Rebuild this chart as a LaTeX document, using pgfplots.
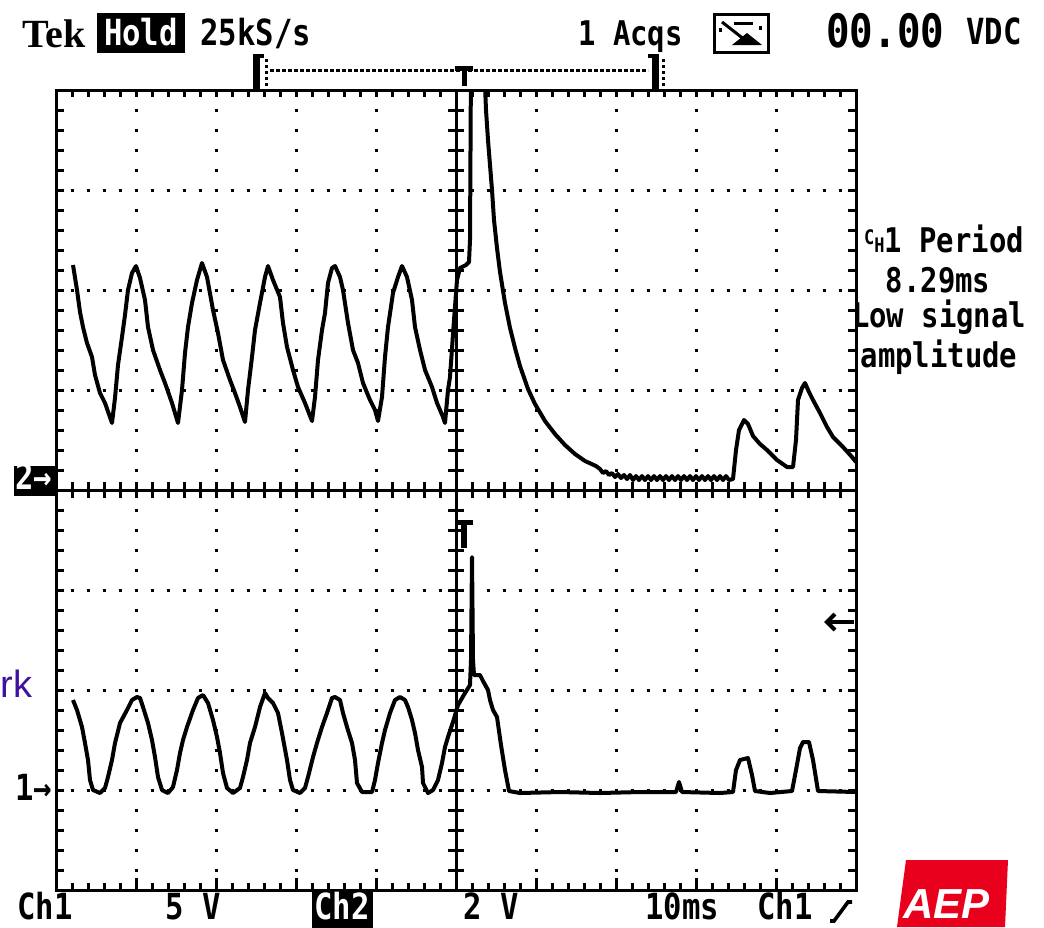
\documentclass[border=0pt]{standalone}
\usepackage{fontspec}
\usepackage{pgfplots}
\pgfplotsset{compat=1.18}
\newfontfamily\scopefont[FakeStretch=0.85]{DejaVu Sans Mono}
\newfontfamily\tekfont{Liberation Serif}
\newfontfamily\arialfont{Liberation Sans}
\definecolor{aepred}{RGB}{232,0,28}
\definecolor{slidepurple}{RGB}{64,16,160}
\tikzset{sc/.style={inner sep=0pt, font=\scopefont\bfseries\fontsize{#1}{#1}\selectfont}}
\begin{document}
\begin{tikzpicture}
\begin{axis}[
  scale only axis, width=400pt, height=400pt,
  xmin=56, xmax=856, ymin=90, ymax=890, y dir=reverse,
  axis line style={draw=none}, ticks=none,
  at={(28pt,-45pt)}, anchor=north west,
  clip=true,
]
% Channel 2 (upper trace)
\addplot[black, line width=2pt, line join=round] coordinates {
(73,265)(77,290)(80,312)(83,327)(87,343)(92,357)(95,375)(100,393)(105,403)(112,423)
(115,398)(118,365)(122,337)(125,315)(128,290)(132,273)(136,266)
(140,278)(145,300)(148,327)(153,350)(160,370)(165,383)(172,403)(178,423)
(182,390)(185,353)(188,327)(192,303)(197,280)(202,263)
(207,277)(213,310)(218,333)(223,360)(230,380)(235,393)(240,407)(245,422)
(248,390)(252,357)(255,330)(260,303)(265,277)(268,266)
(273,280)(280,297)(283,323)(287,347)(293,370)(298,387)(305,403)(312,421)
(315,397)(318,360)(322,330)(325,313)(328,283)(332,268)(335,266)
(340,277)(343,290)(348,323)(353,350)(358,363)(363,383)(370,400)(375,410)(378,421)
(382,397)(385,357)(388,327)(393,293)(398,277)(402,266)
(407,277)(412,300)(415,327)(420,350)(425,370)(432,387)(437,403)(443,417)(445,423)
(448,390)(450,377)(454,320)(457,280)(460,268)(466,265)(469,262)(470,240)(471,60)
(484,60)(486,110)(488,140)(490,165)(492,190)(494,220)(497,248)(500,272)(505,303)
(510,328)(515,348)(520,366)(528,389)(535,404)(545,421)(555,434)(565,445)(575,454)
(585,461)(596,466)
(600,469)(603,473)(606,471)(609,475)(612,473)(615,477)(618,474)(621,478)(624,475)
(627,479)(630,475)(633,480)(636,476)(639,480)(642,476)(645,480)(648,476)(651,480)
(654,476)(657,480)(660,476)(663,480)(666,476)(669,480)(672,476)(675,480)(678,476)
(681,480)(684,476)(687,480)(690,476)(693,480)(696,476)(699,480)(702,476)(705,480)
(708,476)(711,480)(714,476)(717,480)(720,476)(723,480)(726,476)(729,480)(733,479)
(736,450)(739,430)(744,420)(748,424)(753,436)(760,444)(767,450)(777,460)(787,467)(793,467)
(796,440)(798,400)(802,388)(805,383)(809,392)(813,400)(820,413)(827,427)(833,437)
(843,447)(852,457)(856,462)
};
% Channel 1 (lower trace)
\addplot[black, line width=2pt, line join=round] coordinates {
(73,700)(77,710)(82,727)(85,743)(88,760)(90,780)(93,790)(100,793)(105,788)(108,777)
(112,760)(115,743)(120,723)(127,710)(132,700)(137,697)(140,698)(143,707)(148,723)
(152,740)(155,757)(158,777)(162,790)(168,793)(173,787)(177,770)(180,753)(183,740)
(187,727)(193,710)(198,698)(203,695)(208,703)(213,720)(217,737)(220,753)(223,773)
(227,788)(233,793)(240,788)(243,777)(247,760)(250,743)(255,727)(260,707)(265,693)
(268,698)(273,703)(278,713)(282,733)(287,760)(290,780)(293,790)(300,793)(305,788)
(308,777)(313,757)(317,743)(322,727)(327,713)(332,698)(335,697)(340,700)(343,713)
(347,727)(352,743)(355,760)(357,783)(362,792)(372,792)(375,780)(378,763)(382,743)
(385,730)(390,713)(395,700)(400,697)(405,700)(408,707)(412,720)(415,733)(418,750)
(422,767)(423,783)(428,793)(433,790)(438,780)(442,763)(445,747)(448,737)(453,722)
(458,705)(465,693)(470,685)(471,660)(472,557)(473,660)(474,675)(480,675)(483,681)
(488,690)(490,700)(493,710)(497,717)(501,745)(505,770)(509,791)(520,793)(560,792)
(600,793)(640,792)(676,792)(679,782)(682,792)(720,793)(733,792)(736,770)(740,760)
(748,758)(752,775)(755,791)(770,793)(792,791)(796,770)(800,748)(803,742)(809,742)
(813,760)(818,791)(856,792)
};
\end{axis}
\begin{scope}[x=0.5pt,y=-0.5pt]
% ---------- graticule ----------
\draw[line width=1.5pt] (56,90) rectangle (856,890);
\foreach \y in {190,290,390,590,690,790}
  \draw[line width=1.5pt, dash pattern=on 1.5pt off 6.5pt, dash phase=0.75pt] (56,\y)--(856,\y);
\foreach \x in {136,216,296,376,536,616,696,776}
  \draw[line width=1.5pt, dash pattern=on 1.5pt off 8.5pt, dash phase=0.75pt] (\x,90)--(\x,890);
\draw[line width=1.5pt] (56,490)--(856,490);
\draw[line width=1.5pt] (456,90)--(456,890);
\foreach \k in {1,...,49} {
  \draw[line width=1.5pt] ({56+16*\k},482)--({56+16*\k},498);
  \draw[line width=1.5pt] ({56+16*\k},90)--({56+16*\k},97);
  \draw[line width=1.5pt] ({56+16*\k},890)--({56+16*\k},883);
}
\foreach \k in {5,10,...,45} \draw[line width=1.5pt] ({56+16*\k},890)--({56+16*\k},878);
\foreach \k in {1,...,39} {
  \draw[line width=1.5pt] (448,{90+20*\k})--(464,{90+20*\k});
  \draw[line width=1.5pt] (56,{90+20*\k})--(64,{90+20*\k});
  \draw[line width=1.5pt] (856,{90+20*\k})--(848,{90+20*\k});
}
% ---------- trigger position bar ----------
\fill (253,54) rectangle (260,90);
\fill (253,54) rectangle (264,58);
\draw[line width=1.5pt, dash pattern=on 1.5pt off 1.5pt] (266,59)--(266,90);
\draw[line width=1.5pt, dash pattern=on 2pt off 1pt] (270,70.5)--(648,70.5);
\fill (455,66) rectangle (473,71);
\fill (462,66) rectangle (467,86);
\fill (652,54) rectangle (659,90);
\fill (648,54) rectangle (659,58);
\draw[line width=1.5pt, dash pattern=on 1.5pt off 1.5pt] (663,59)--(663,90);
% ---------- top status line ----------
\node[anchor=base west, inner sep=0pt, font=\tekfont\bfseries\fontsize{20}{20}\selectfont] at (22,47) {Tek};
\fill (97,13) rectangle (185,53);
\node[sc=18, anchor=base, text=white] at (141,45) {Hold};
\node[sc=18, anchor=base west] at (200,45) {25kS/s};
\node[sc=17, anchor=base west] at (578,45) {1 Acqs};
\draw[line width=1.5pt] (714,14) rectangle (768,52);
\draw[line width=1.5pt] (722,22)--(745,40);
\draw[line width=1.5pt] (734,23)--(753,23);
\fill (719,28) rectangle (722,32);
\fill (759,26) rectangle (762,30);
\fill (732,45)--(747,33)--(762,45)--cycle;
\node[sc=23, anchor=base west] at (826,47) {00.00};
\node[sc=18, anchor=base west] at (966,44) {VDC};
% ---------- measurement readout ----------
\node[sc=17, anchor=base] at (944,252) {{\fontsize{10}{10}\selectfont\raisebox{4pt}{C}H}1 Period};
\node[sc=17, anchor=base] at (938,292) {8.29ms};
\node[sc=17, anchor=base] at (939,327) {Low signal};
\node[sc=17, anchor=base] at (939,367) {amplitude};
% ---------- channel markers ----------
\fill (14,466) rectangle (55,496);
\node[sc=18, anchor=base, text=white] at (34,489) {2→};
\node[sc=18, anchor=base] at (34,800) {1→};
\draw[line width=2pt] (828,622)--(854,622);
\draw[line width=2pt] (835,614)--(827,622)--(835,630);
\fill (457,520) rectangle (473,525);
\fill (461,520) rectangle (467,548);
\node[anchor=base east, inner sep=0pt, text=slidepurple, font=\arialfont\fontsize{19}{19}\selectfont] at (33,697) {rk};
% ---------- bottom status line ----------
\node[sc=18, anchor=base west] at (17,919) {Ch1};
\node[sc=18, anchor=base west] at (165,919) {5 V};
\fill (312,892) rectangle (373,928);
\node[sc=18, anchor=base, text=white] at (342,919) {Ch2};
\node[sc=18, anchor=base west] at (463,919) {2 V};
\node[sc=18, anchor=base west] at (645,919) {10ms};
\node[sc=18, anchor=base west] at (757,919) {Ch1};
\draw[line width=1.8pt] (830,921)--(834,921)--(848,902)--(852,902);
% ---------- logo ----------
\fill[aepred] (906,860)--(1008,860)--(1005,927)--(897,927)--cycle;
\node[anchor=base west, inner sep=0pt, text=white, font=\arialfont\bfseries\itshape\fontsize{21}{21}\selectfont] at (903,918) {AEP};
\end{scope}
\pgfresetboundingbox
\path (0,0) rectangle (522pt,-463.5pt);
\end{tikzpicture}
\end{document}
